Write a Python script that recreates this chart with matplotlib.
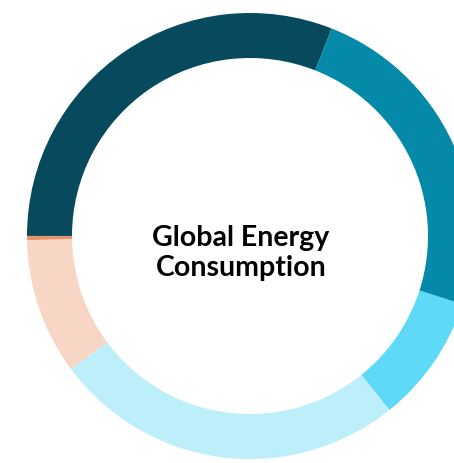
import matplotlib.pyplot as plt

# shares of the ring, counter-clockwise from the top-right boundary
labels = ['Oil', 'Other', 'Nuclear', 'Coal', 'Hydro', 'Gas']
shares = [31.0, 0.3, 9.9, 25.6, 9.3, 24.0]
colors = ['#074a5e', '#e8946c', '#f8d6c6', '#bdeffb', '#5ed9f7', '#0589a9']

W, H = 454, 463
fig = plt.figure(figsize=(W / 100, H / 100), dpi=100)
ax = fig.add_axes([0, 0, 1, 1])

ax.pie(shares, colors=colors, radius=223, center=(250, H - 236),
       startangle=68.5, counterclock=True,
       wedgeprops=dict(width=45, linewidth=0))

ax.set_xlim(0, W)
ax.set_ylim(0, H)
ax.set_aspect('equal')
ax.axis('off')

ax.text(241, H - 253, 'Global Energy\nConsumption', ha='center', va='center',
        fontsize=20.5, fontweight='bold', family=['Lato', 'DejaVu Sans'],
        linespacing=1.2, color='black')

fig.savefig('out.png', dpi=100)
